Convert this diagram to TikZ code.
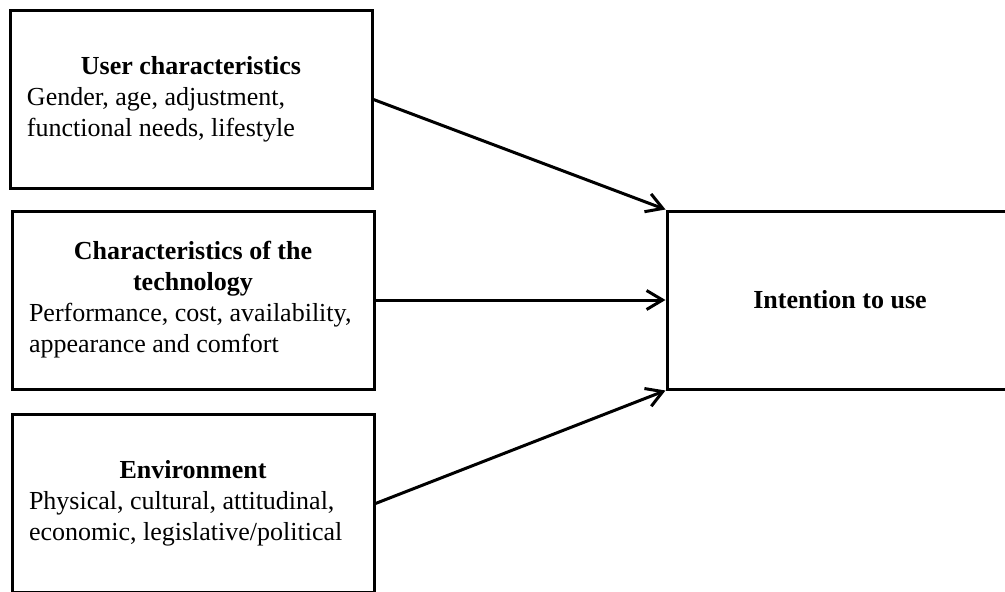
\documentclass[tikz,border=0pt]{standalone}
\usepackage{fontspec}
\setmainfont{Liberation Serif}
\usepackage{tikz}
\usetikzlibrary{arrows.meta,positioning}

\begin{document}
\begin{tikzpicture}[x=1pt, y=-1pt, node distance=20pt,
  every node/.style={font=\fontsize{26}{31}\selectfont},
  box/.style={draw, line width=3pt, minimum width=362pt, minimum height=178pt,
              text width=328pt, inner sep=0pt, align=flush left},
  goal/.style={draw, line width=3pt, minimum width=346pt, minimum height=178pt,
               inner sep=0pt, font=\fontsize{26}{31}\selectfont\bfseries},
  ar/.style={-{Straight Barb[length=16pt,width=19pt]}, line width=3pt}]
\useasboundingbox (0,0) rectangle (1005,592);
\node[box] (user) at (191,99.5)
  {{\centering\bfseries User characteristics\par}Gender, age, adjustment,\\functional needs, lifestyle};
\node[box,below=19.5pt of user,xshift=2pt] (tech)
  {{\centering\bfseries Characteristics of the\\technology\par}Performance, cost, availability,\\appearance and comfort};
\node[box,below=22.5pt of tech] (env)
  {{\centering\bfseries Environment\par}Physical, cultural, attitudinal,\\economic, legislative/political};
\node[goal] (intent) at (840,300) {Intention to use};
\draw[ar] (user.east) -- (intent.north west);
\draw[ar] (tech.east) -- (intent.west);
\draw[ar] (env.east) -- (intent.south west);
\end{tikzpicture}
\end{document}
